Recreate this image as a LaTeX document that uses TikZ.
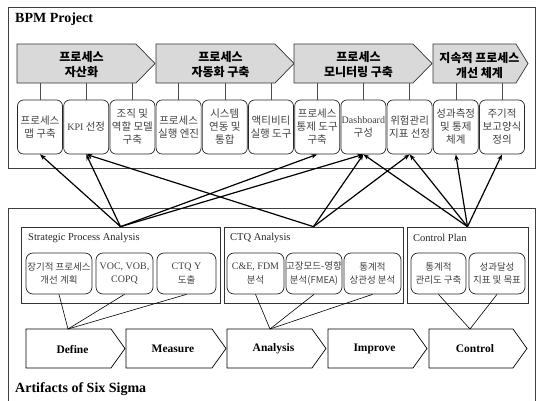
\documentclass[tikz,border=0pt]{standalone}
\usepackage{fontspec}
\setmainfont{Liberation Serif}
\newfontfamily\kr{Noto Sans CJK KR}
\usetikzlibrary{arrows.meta}
\tikzset{
  outerframe/.style={draw=black!75, line width=0.8pt},
  chevfill/.style={draw=black!80, fill=black!15, line width=0.7pt},
  chevtxt/.style={font=\kr\bfseries\fontsize{12}{15}\selectfont, align=center, inner sep=0pt},
  topbox/.style={draw=black!85, rounded corners=6pt, minimum width=45pt, minimum height=54pt, inner sep=0pt, align=center, font=\kr\fontsize{10.5}{13}\selectfont, text=black!75, line width=0.7pt},
  grpbox/.style={draw=black!80, line width=0.7pt, inner sep=0pt},
  itembox/.style={draw=black!85, rounded corners=7pt, minimum height=41pt, inner sep=0pt, align=center, font=\kr\fontsize{9.5}{13.5}\selectfont, text=black!75, line width=0.7pt},
  dmaic/.style={draw=black, fill=white, line width=0.7pt},
  dtxt/.style={font=\bfseries\fontsize{11.5}{14}\selectfont, inner sep=0pt},
  vtick/.style={draw=black!70, line width=0.6pt},
  bigarrow/.style={line width=1.2pt, -{Stealth[length=6pt,width=4.5pt]}},
  link/.style={line width=0.6pt},
  headtxt/.style={font=\bfseries\fontsize{14}{16}\selectfont, anchor=west, inner sep=0pt},
  gtitle/.style={font=\fontsize{10.5}{12}\selectfont, anchor=west, inner sep=0pt, text=black!85}
}
\newcommand{\lt}[1]{{\rmfamily\fontsize{10}{12.5}\selectfont #1}}
\begin{document}
\begin{tikzpicture}[x=1pt,y=-1pt]
\useasboundingbox (0,0) rectangle (539,400);
% frames
\draw[outerframe] (8,7) rectangle (535,168);
\draw[outerframe] (8,402) -- (8,208) -- (535,208) -- (535,402);
\node[headtxt] (bpm) at (15,19) {BPM Project};
\node[headtxt] (six) at (15,389) {Artifacts of Six Sigma};
% top chevrons
\foreach \i/\xa/\xb/\xt/\lab in {1/17/136/155/{프로세스\\자산화}, 2/156/275/294/{프로세스\\자동화 구축}, 3/294/413/432/{프로세스\\모니터링 구축}, 4/433/516/528/{지속적 프로세스\\개선 체계}}{
  \draw[chevfill] (\xa,44) -- (\xb,44) -- (\xt,63.5) -- (\xb,83) -- (\xa,83) -- cycle;
  \node[chevtxt] (c\i) at ({(\xa+\xb)/2+5},65) {\lab};
  \coordinate (cb\i) at (\xa,83);
}
% top boxes
\foreach \i/\lab in {1/{프로세스\\맵 구축}, 2/{\lt{KPI} 선정}, 3/{조직 및\\역할 모델\\구축}, 4/{프로세스\\실행 엔진}, 5/{시스템\\연동 및\\통합}, 6/{액티비티\\실행 도구}, 7/{프로세스\\통제 도구\\구축}, 8/{\lt{Dashboard}\\구성}, 9/{위험관리\\지표 선정}, 10/{성과측정\\및 통제\\체계}, 11/{주기적\\보고양식\\정의}}{
  \node[topbox] (b\i) at ({40+46.2*(\i-1)},127) {\lab};
}
\foreach \i/\c in {1/1,2/1,3/1,4/2,5/2,6/2,7/3,8/3,9/3,10/4,11/4}{
  \draw[vtick] (b\i.north) -- (b\i.north |- cb\c);
}
% group boxes
\node[grpbox, minimum width=199pt, minimum height=76pt] (spa) at (120.5,265) {};
\node[grpbox, minimum width=179pt, minimum height=76pt] (ctq) at (313.5,265) {};
\node[grpbox, minimum width=121pt, minimum height=76pt] (cp) at (467.5,265) {};
\node[gtitle] (spat) at (28,238) {Strategic Process Analysis};
\node[gtitle] (ctqt) at (230,238) {CTQ Analysis};
\node[gtitle] (cpt) at (413,238) {Control Plan};
% items
\node[itembox, minimum width=66pt] (i1) at (59,273.5) {장기적 프로세스\\개선 계획};
\node[itembox, minimum width=57pt] (i2) at (124.5,273.5) {\lt{VOC, VOB,}\\\lt{COPQ}};
\node[itembox, minimum width=59pt] (i3) at (186.5,273.5) {\lt{CTQ Y}\\도출};
\node[itembox, minimum width=57pt] (i4) at (255.5,273.5) {\lt{C\&E, FDM}\\분석};
\node[itembox, minimum width=56pt] (i5) at (314,273.5) {고장모드-영향\\분석(FMEA)};
\node[itembox, minimum width=57pt] (i6) at (372.5,273.5) {통계적\\상관성 분석};
\node[itembox, minimum width=55pt] (i7) at (438.5,273.5) {통계적\\관리도 구축};
\node[itembox, minimum width=56pt] (i8) at (497,273.5) {성과달성\\지표 및 목표};
% DMAIC chevrons
\foreach \i/\xa/\xb/\xt/\lab in {1/26/111/125/Define, 2/126/212/226/Measure, 3/227/312/326/Analysis, 4/328/413/427/Improve, 5/429/513/527/Control}{
  \draw[dmaic] (\xa,329) -- (\xb,329) -- (\xt,348.5) -- (\xb,368) -- (\xa,368) -- cycle;
  \node[dtxt] (d\i) at ({(\xa+\xb)/2+4},349) {\lab};
}
\coordinate (defT) at (68,329);
\coordinate (anaT) at (270,329);
\coordinate (conT) at (470,329);
% thin links
\draw[link] (i1.south) -- (defT);
\draw[link] (i2.south) -- (defT);
\draw[link] (i3.south) -- (defT);
\draw[link] (i4.south) -- (anaT);
\draw[link] (i5.south) -- (anaT);
\draw[link] (i6.south) -- (anaT);
\draw[link] (i7.south) -- (conT);
\draw[link] (i8.south) -- (conT);
% big arrows
\draw[bigarrow] (spa.north) -- (b1.south);
\draw[bigarrow] (spa.north) -- (b2.south);
\draw[bigarrow] (spa.north) -- (b7.south);
\draw[bigarrow] (spa.north) -- (b8.south);
\draw[bigarrow] (ctq.north) -- (b2.south);
\draw[bigarrow] (ctq.north) -- (b8.south);
\draw[bigarrow] (ctq.north) -- (b9.south);
\draw[bigarrow] (cp.north) -- (b8.south);
\draw[bigarrow] (cp.north) -- (b9.south);
\draw[bigarrow] (cp.north) -- (b10.south);
\draw[bigarrow] (cp.north) -- (b11.south);
\end{tikzpicture}
\end{document}
